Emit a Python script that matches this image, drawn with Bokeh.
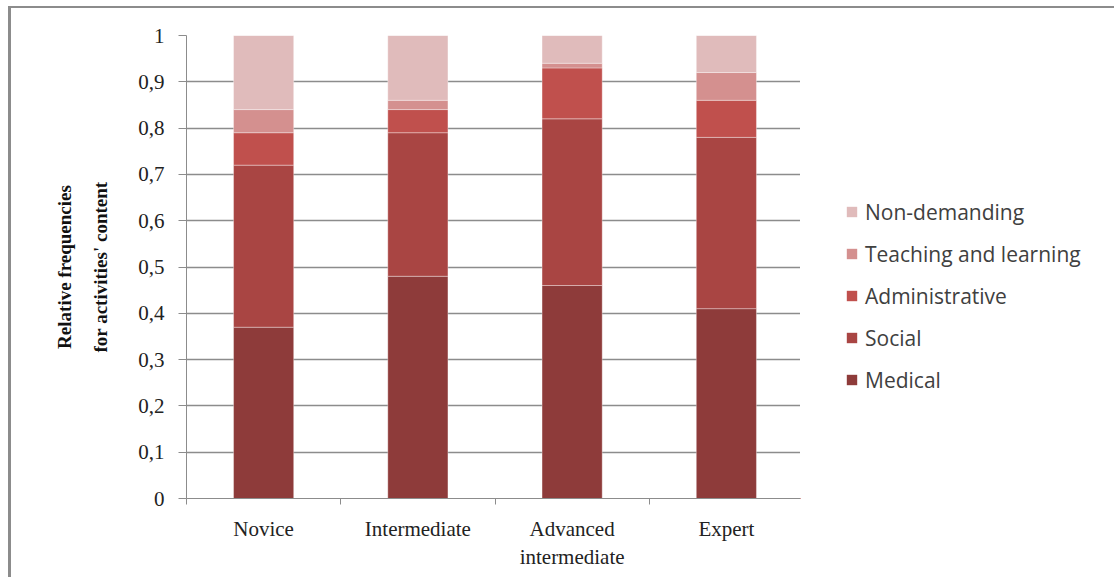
from bokeh.plotting import figure
from bokeh.layouts import row
from bokeh.models import (Range1d, LinearAxis, FixedTicker, ColumnDataSource,
                          CustomJSTickFormatter, Legend, LegendItem)
from bokeh.embed import file_html
from bokeh.resources import INLINE

# Relative frequencies of activity content by expertise level
levels = ["Novice", "Intermediate", "Advanced intermediate", "Expert"]
medical = [0.37, 0.48, 0.46, 0.41]
social = [0.35, 0.31, 0.36, 0.37]
administrative = [0.07, 0.05, 0.11, 0.08]
teaching = [0.05, 0.02, 0.01, 0.06]
non_demanding = [0.16, 0.14, 0.06, 0.08]

series_names = ["Medical", "Social", "Administrative", "Teaching and learning", "Non-demanding"]
series_colors = ["#8e3b3a", "#a94543", "#c0504d", "#d4908f", "#e0bbbb"]
y_ticks = [0, 0.1, 0.2, 0.3, 0.4, 0.5, 0.6, 0.7, 0.8, 0.9, 1.0]

# each level occupies one unit slot on the x scale, bar centred in its slot
slot_centers = [i + 0.5 for i in range(len(levels))]
data = dict(x=slot_centers, Medical=medical, Social=social, Administrative=administrative)
data["Teaching and learning"] = teaching
data["Non-demanding"] = non_demanding
source = ColumnDataSource(data)

SERIF = "Liberation Serif"
GRID = "#8c8c8c"
RULE = "#8c8c8c"

# main chart, inside a framed chart area (top and left rules)
OFF_X, OFF_Y = 11, 9
PLOT_W = 803 - OFF_X
p = figure(x_range=Range1d(0, len(levels)), y_range=Range1d(0, 1),
           width=PLOT_W, height=580 - OFF_Y, output_backend="svg", toolbar_location=None,
           x_axis_location=None,
           min_border_left=186 - OFF_X, min_border_right=0, min_border_top=36 - OFF_Y,
           min_border_bottom=81)
p.margin = (6, 0, 0, 8)
p.styles = {"border-top": f"2.5px solid {RULE}", "border-left": f"3px solid {RULE}"}
p.outline_line_color = None
p.background_fill_color = "white"
p.border_fill_color = "white"

p.vbar_stack(series_names, x="x", width=0.39, source=source,
             color=series_colors, line_color="white", line_alpha=0.35, line_width=1)

# y axis
yax = p.yaxis[0]
yax.ticker = FixedTicker(ticks=y_ticks)
yax.formatter = CustomJSTickFormatter(code="return tick.toFixed(1).replace('.', ',').replace(/,0$/, '');")
yax.axis_line_color = GRID
yax.major_tick_line_color = GRID
yax.major_tick_out = 8
yax.major_tick_in = 0
yax.minor_tick_line_color = None
yax.major_label_standoff = 14
yax.major_label_text_font = SERIF
yax.major_label_text_font_size = "21px"
yax.major_label_text_color = "#222222"
yax.axis_label = "Relative frequencies\nfor activities' content"
yax.axis_label_text_font = SERIF
yax.axis_label_text_font_size = "19px"
yax.axis_label_text_font_style = "bold"
yax.axis_label_text_color = "#111111"
yax.axis_label_text_line_height = 1.75
yax.axis_label_standoff = 24

p.xgrid.visible = False
p.ygrid.ticker = FixedTicker(ticks=y_ticks)
p.ygrid.grid_line_color = GRID
p.ygrid.grid_line_width = 1.5

# slot-boundary tick marks along the x axis
edge_axis = LinearAxis(ticker=FixedTicker(ticks=list(range(len(levels) + 1))),
                       major_tick_out=6, major_tick_in=0, major_label_text_font_size="0px",
                       major_label_standoff=0, axis_line_color=GRID, major_tick_line_color=GRID,
                       minor_tick_line_color=None)
p.add_layout(edge_axis, "below")

# level names under the slot centres
cat_axis = LinearAxis(ticker=FixedTicker(ticks=slot_centers), major_tick_line_color=None,
                      axis_line_color=None, minor_tick_line_color=None,
                      major_label_standoff=6,
                      major_label_text_font=SERIF, major_label_text_font_size="21px",
                      major_label_text_color="#222222",
                      major_label_overrides={c: n.replace(" ", "\n") for c, n in zip(slot_centers, levels)})
p.add_layout(cat_axis, "below")

# legend panel to the right of the chart; its ranges lie far from the data,
# so the stack only supplies the legend swatches
LEG_W = 1117 - 803
leg = figure(x_range=Range1d(100, 101), y_range=Range1d(100, 101),
             width=LEG_W, height=580 - OFF_Y, output_backend="svg", toolbar_location=None,
             x_axis_location=None, y_axis_location=None,
             min_border_left=0, min_border_right=0, min_border_top=0, min_border_bottom=0)
leg.margin = (6, 0, 0, 0)
leg.styles = {"border-top": f"2.5px solid {RULE}"}
leg.outline_line_color = None
leg.xgrid.visible = False
leg.ygrid.visible = False
leg_renderers = leg.vbar_stack(series_names, x="x", width=0.39, source=source,
                               fill_color=series_colors, line_color=None)

items = [LegendItem(label=n, renderers=[r]) for n, r in zip(series_names, leg_renderers)][::-1]
legend = Legend(items=items, location=(45, 104), orientation="vertical",
                glyph_width=13, glyph_height=13, label_standoff=7, label_height=29,
                spacing=13, padding=0, margin=0, border_line_color=None,
                background_fill_alpha=0, label_text_font="Open Sans",
                label_text_font_size="21px", label_text_color="#404040")
leg.add_layout(legend)

layout = row(p, leg, spacing=0)
open("out.html", "w").write(file_html(layout, INLINE))
